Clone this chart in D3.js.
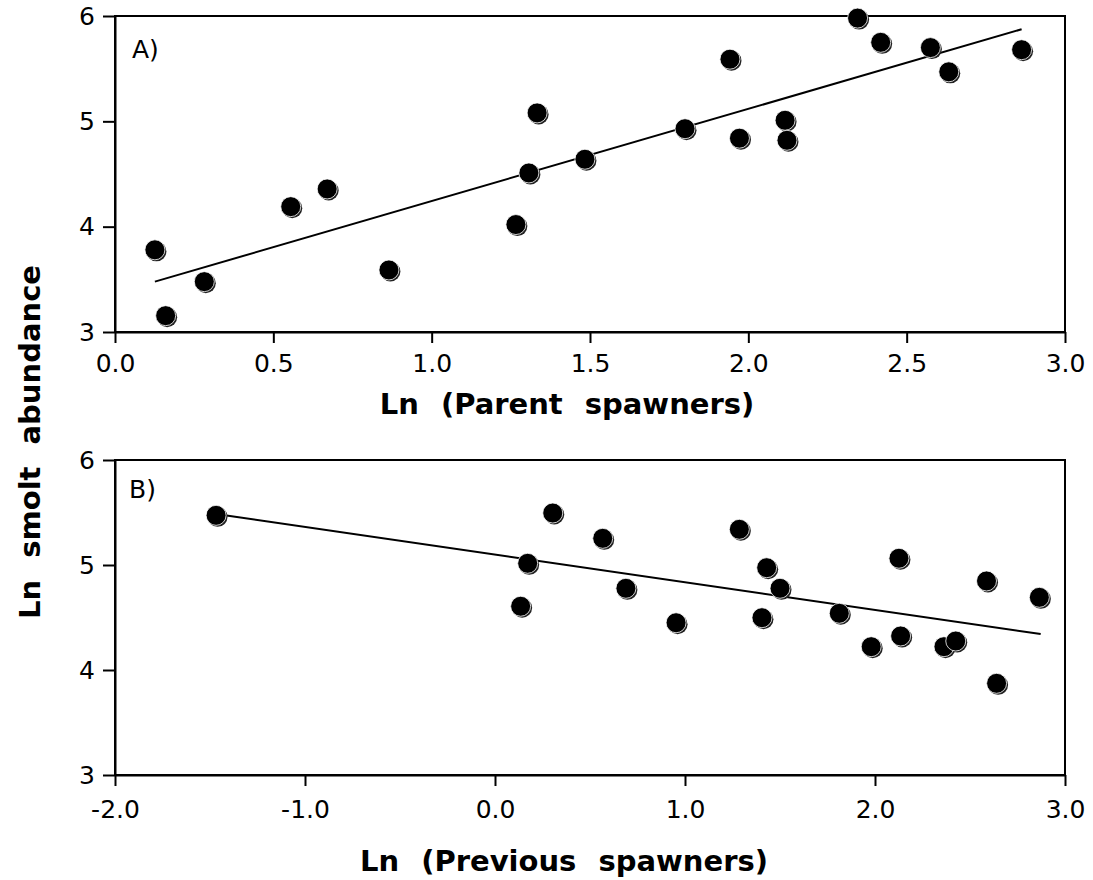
<!DOCTYPE html>
<html>
<head>
<meta charset="utf-8">
<script src="https://cdn.jsdelivr.net/npm/d3@7"></script>
<style>
  body { margin: 0; background: #fff; }
  text { font-family: "DejaVu Sans", Verdana, sans-serif; fill: #000; }
  .axis .tick text { font-size: 25px; font-family: "DejaVu Sans", Verdana, sans-serif; }
  .axis path, .axis line { stroke: #000; stroke-width: 2; }
  .label { font-size: 29px; font-weight: bold; word-spacing: 12px; }
  .tag { font-size: 25px; }
</style>
</head>
<body>
<div id="chart"></div>
<script>
// panel A: ln parent spawners vs ln smolt abundance
const parentX = [0.126, 0.16, 0.282, 0.555, 0.67, 0.865, 1.266, 1.307, 1.333, 1.484,
                 1.80, 1.942, 1.972, 2.116, 2.122, 2.345, 2.418, 2.575, 2.633, 2.863];
const parentY = [3.78, 3.155, 3.478, 4.19, 4.358, 3.589, 4.02, 4.51, 5.08, 4.64,
                 4.93, 5.59, 4.84, 5.01, 4.82, 5.98, 5.75, 5.70, 5.47, 5.68];
const fitAX = [0.126, 2.863];
const fitAY = [3.478, 5.874];

// panel B: ln previous spawners vs ln smolt abundance
const prevX = [-1.468, 0.135, 0.172, 0.304, 0.567, 0.689, 0.953, 1.286, 1.405, 1.43,
               1.5, 1.812, 1.98, 2.126, 2.135, 2.363, 2.425, 2.587, 2.64, 2.865];
const prevY = [5.473, 4.607, 5.016, 5.495, 5.254, 4.778, 4.45, 5.34, 4.498, 4.974,
               4.778, 4.54, 4.222, 5.064, 4.324, 4.222, 4.276, 4.848, 3.873, 4.692];
const fitBX = [-1.468, 2.872];
const fitBY = [5.486, 4.343];

const yTicks = [3, 4, 5, 6];
const xTicksA = [0, 0.5, 1.0, 1.5, 2.0, 2.5, 3.0];
const xTicksB = [-2, -1, 0, 1, 2, 3];

const svgWidth = 1093, svgHeight = 880;

// plain hyphen for negatives
const fmt1 = (d) => d3.format(".1f")(d).replace("\u2212", "-");

let svg = d3.select("#chart").append("svg")
    .attr("width", svgWidth)
    .attr("height", svgHeight);

function zip(xs, ys) {
    return xs.map((x, i) => ({ x: x, y: ys[i] }));
}

function drawPanel(opt) {
    let g = svg.append("g")
        .attr("transform", `translate(${opt.left},${opt.top})`);

    let xScale = d3.scaleLinear().domain(opt.xDomain).range([0, opt.width]);
    let yScale = d3.scaleLinear().domain([3, 6]).range([opt.height, 0]);

    // frame
    g.append("rect")
        .attr("width", opt.width)
        .attr("height", opt.height)
        .attr("fill", "none")
        .attr("stroke", "#000")
        .attr("stroke-width", 2);

    g.append("g")
        .attr("class", "axis")
        .attr("transform", `translate(0,${opt.height})`)
        .call(d3.axisBottom(xScale).tickValues(opt.xTicks).tickFormat(fmt1)
            .tickSize(11).tickSizeOuter(0).tickPadding(opt.xPad));

    g.append("g")
        .attr("class", "axis")
        .call(d3.axisLeft(yScale).tickValues(yTicks).tickFormat(d3.format("d"))
            .tickSize(12).tickSizeOuter(0).tickPadding(8));

    // regression line
    g.append("path")
        .datum(zip(opt.fitX, opt.fitY))
        .attr("fill", "none")
        .attr("stroke", "#000")
        .attr("stroke-width", 2)
        .attr("d", d3.line().x((d) => xScale(d.x)).y((d) => yScale(d.y)));

    let pts = zip(opt.xs, opt.ys);

    // shadow + dot
    g.selectAll("circle.shadow")
        .data(pts)
        .join("circle")
        .attr("class", "shadow")
        .attr("cx", (d) => xScale(d.x) + 1.5)
        .attr("cy", (d) => yScale(d.y) + 1.5)
        .attr("r", 10)
        .attr("fill", "#222");
    g.selectAll("circle.dot")
        .data(pts)
        .join("circle")
        .attr("class", "dot")
        .attr("cx", (d) => xScale(d.x))
        .attr("cy", (d) => yScale(d.y))
        .attr("r", 10)
        .attr("fill", "#000")
        .attr("stroke", "#fff")
        .attr("stroke-width", 0.8);

    g.append("text")
        .attr("class", "tag")
        .attr("x", opt.tagX)
        .attr("y", opt.tagY)
        .text(opt.tag);

    svg.append("text")
        .attr("class", "label")
        .attr("text-anchor", "middle")
        .attr("x", opt.labelX)
        .attr("y", opt.labelY)
        .text(opt.label);
}

drawPanel({
    left: 115, top: 16, width: 950, height: 316,
    xDomain: [0, 3], xTicks: xTicksA, xPad: 11,
    xs: parentX, ys: parentY, fitX: fitAX, fitY: fitAY,
    tag: "A)", tagX: 17, tagY: 42,
    label: "Ln (Parent spawners)", labelX: 567, labelY: 414
});

drawPanel({
    left: 115, top: 460, width: 950, height: 315,
    xDomain: [-2, 3], xTicks: xTicksB, xPad: 14,
    xs: prevX, ys: prevY, fitX: fitBX, fitY: fitBY,
    tag: "B)", tagX: 14, tagY: 38,
    label: "Ln (Previous spawners)", labelX: 564, labelY: 871
});

// shared y label
svg.append("text")
    .attr("class", "label")
    .attr("text-anchor", "middle")
    .attr("transform", "translate(40,442) rotate(-90)")
    .text("Ln smolt abundance");
</script>
</body>
</html>
